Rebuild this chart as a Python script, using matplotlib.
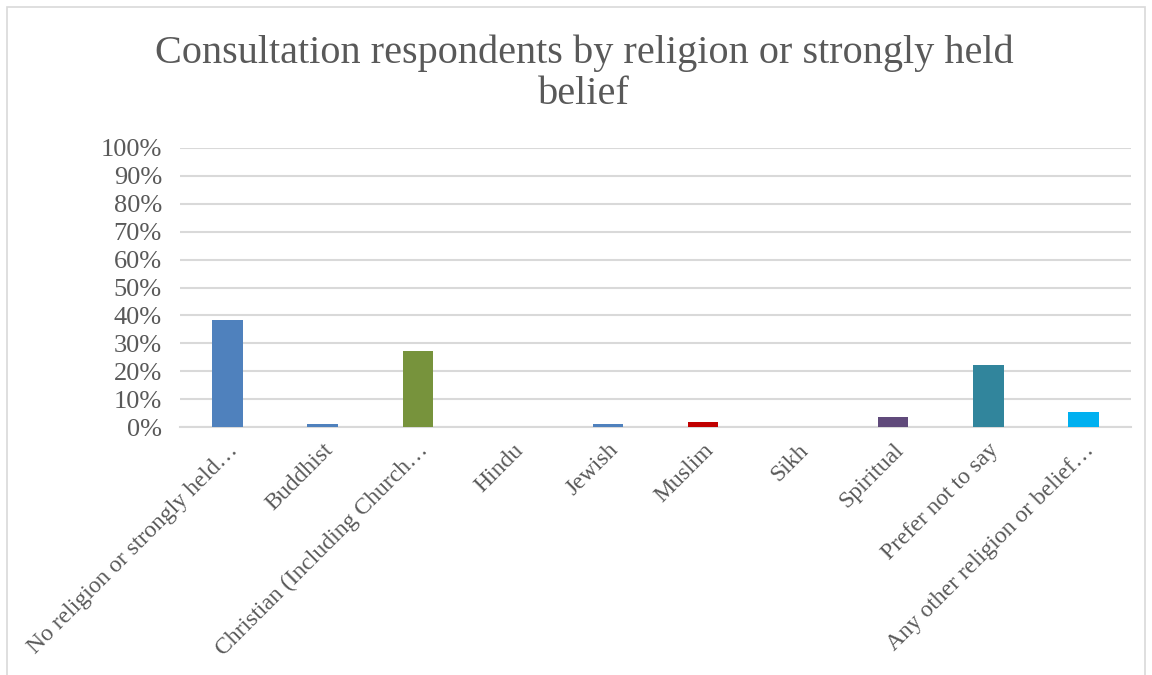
import matplotlib.pyplot as plt
import matplotlib.patches as mpatches
from matplotlib.ticker import PercentFormatter

categories = ['No religion or strongly held…', 'Buddhist', 'Christian (Including Church…',
              'Hindu', 'Jewish', 'Muslim', 'Sikh', 'Spiritual', 'Prefer not to say',
              'Any other religion or belief…']
values = [38.4, 1.2, 27.2, 0.0, 1.2, 1.8, 0.0, 3.6, 22.2, 5.4]
colors = ['#4F81BD', '#4F81BD', '#77933C', '#4F81BD', '#4F81BD', '#C00000',
          '#4F81BD', '#604A7B', '#31859C', '#00B0F0']

plt.rcParams['font.family'] = ['Liberation Serif', 'DejaVu Serif']
text_col = '#595959'

fig = plt.figure(figsize=(11.52, 6.75), dpi=100)
ax = fig.add_axes([180 / 1152, 1 - 427 / 675, 951 / 1152, 279 / 675])

x = range(len(categories))
ax.bar(x, values, width=0.32, color=colors, zorder=3)

ax.set_ylim(0, 100)
ax.set_xlim(-0.5, len(categories) - 0.5)
ax.set_yticks(range(0, 101, 10))
ax.yaxis.set_major_formatter(PercentFormatter(decimals=0))
ax.grid(axis='y', color='#D9D9D9', linewidth=1.5, zorder=0)
for s in ['top', 'right', 'left']:
    ax.spines[s].set_visible(False)
ax.spines['bottom'].set_color('#D9D9D9')
ax.spines['bottom'].set_linewidth(1.5)
ax.tick_params(axis='both', length=0, colors=text_col)
ax.tick_params(axis='y', pad=13, labelsize=19)
ax.tick_params(axis='x', pad=9, labelsize=17)
ax.set_xticks(list(x))
ax.set_xticklabels(categories, rotation=45, ha='right', rotation_mode='anchor')

fig.text(0.507, 0.891, 'Consultation respondents by religion or strongly held\nbelief',
         ha='center', va='center', fontsize=29, color=text_col, linespacing=1.12)

# chart border
fig.patches.append(mpatches.Rectangle((7 / 1152, -0.01), 1138 / 1152, 1 - 7 / 675 + 0.01,
                                      transform=fig.transFigure, fill=False,
                                      edgecolor='#D9D9D9', linewidth=1.2))

fig.savefig('out.png', dpi=100)
